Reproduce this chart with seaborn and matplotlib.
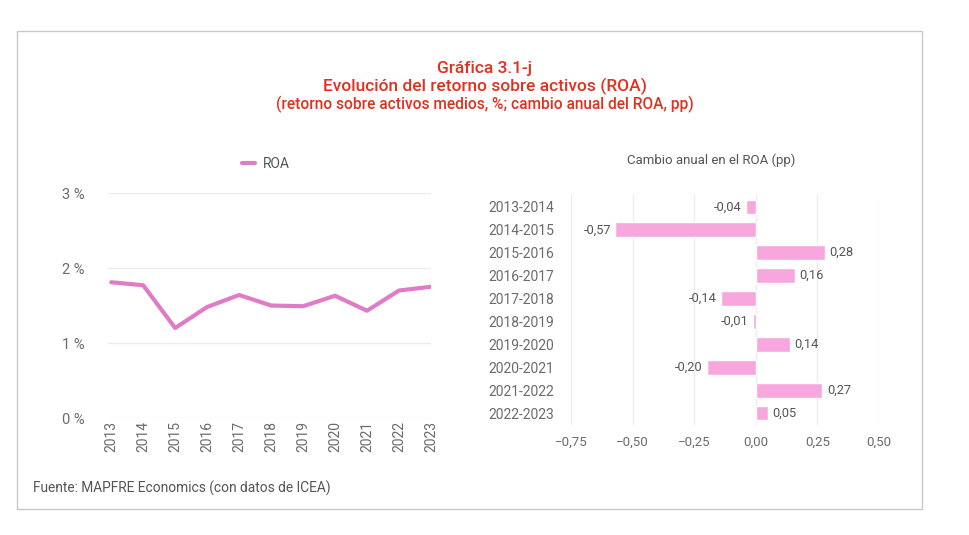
import matplotlib
matplotlib.use("Agg")
import matplotlib.pyplot as plt
import seaborn as sns
import pandas as pd
from matplotlib.patches import Rectangle

# --- Data ---
years = [2013, 2014, 2015, 2016, 2017, 2018, 2019, 2020, 2021, 2022, 2023]
roa = [1.81, 1.77, 1.20, 1.48, 1.64, 1.50, 1.49, 1.63, 1.43, 1.70, 1.75]

periods = ["2013-2014", "2014-2015", "2015-2016", "2016-2017", "2017-2018",
           "2018-2019", "2019-2020", "2020-2021", "2021-2022", "2022-2023"]
changes = [-0.04, -0.57, 0.28, 0.16, -0.14, -0.01, 0.14, -0.20, 0.27, 0.05]

y_ticks = [0, 1, 2, 3]
x_ticks = [-0.75, -0.50, -0.25, 0.00, 0.25, 0.50]

# --- Style ---
sns.set_theme(style="white")
plt.rcParams["font.family"] = ["Roboto", "DejaVu Sans"]

red = "#e2301f"
grey_txt = "#6b6b6b"
line_col = "#e07cc6"
bar_col = "#f8a6de"
grid_col = "#ececec"

fig = plt.figure(figsize=(9.7, 5.35), dpi=100)

# outer frame
fig.patches.append(Rectangle((17 / 970, 1 - 509 / 535), 905 / 970, 478 / 535,
                             transform=fig.transFigure, fill=False,
                             edgecolor="#c8c8c8", linewidth=1))

# titles
fig.text(0.5, 1 - 68 / 535, "Gráfica 3.1-j", ha="center", va="center",
         color=red, fontsize=12.5, fontweight="medium")
fig.text(0.5, 1 - 86 / 535, "Evolución del retorno sobre activos (ROA)", ha="center",
         va="center", color=red, fontsize=12.5, fontweight="medium")
fig.text(0.5, 1 - 104 / 535, "(retorno sobre activos medios, %; cambio anual del ROA, pp)",
         ha="center", va="center", color=red, fontsize=11.2, fontweight="medium")

# --- Left: ROA line ---
ax1 = fig.add_axes([108 / 970, 1 - 418 / 535, 323 / 970, 225 / 535])
df_roa = pd.DataFrame({"year": years, "ROA": roa})
sns.lineplot(data=df_roa, x="year", y="ROA", ax=ax1, color=line_col, linewidth=3,
             label="ROA")
ax1.set_ylim(0, 3)
ax1.set_xlim(2012.9, 2023.0)
ax1.set_yticks(y_ticks)
ax1.set_yticklabels([f"{t} %" for t in y_ticks])
ax1.set_xticks(years)
ax1.set_xticklabels([str(y) for y in years], rotation=90)
ax1.yaxis.grid(True, color=grid_col, linewidth=1)
ax1.set_xlabel("")
ax1.set_ylabel("")
for s in ax1.spines.values():
    s.set_visible(False)
ax1.tick_params(axis="y", colors=grey_txt, labelsize=10.5, length=0, pad=17)
ax1.tick_params(axis="x", colors=grey_txt, labelsize=10, length=0, pad=2)
leg = ax1.legend(loc="center", bbox_to_anchor=(0.49, 1.13), frameon=False,
                 fontsize=10, handlelength=0.9, handletextpad=0.6)
for t in leg.get_texts():
    t.set_color("#555555")

# --- Right: annual change bars ---
ax2 = fig.add_axes([571 / 970, 1 - 424.5 / 535, 308 / 970, 229 / 535])
df_chg = pd.DataFrame({"period": periods, "change": changes})
sns.barplot(data=df_chg, x="change", y="period", ax=ax2, color=bar_col,
            orient="h", width=0.65, saturation=1)
ax2.set_xlim(-0.75, 0.5)
ax2.set_ylim(9.5, -0.5)
ax2.set_xticks(x_ticks)
ax2.set_xticklabels([f"{t:.2f}".replace(".", ",").replace("-", "\u2212") for t in x_ticks])
ax2.xaxis.grid(True, color=grid_col, linewidth=1)
ax2.set_axisbelow(True)
ax2.set_xlabel("")
ax2.set_ylabel("")
for s in ax2.spines.values():
    s.set_visible(False)
ax2.tick_params(axis="both", colors=grey_txt, labelsize=9.5, length=0)
ax2.tick_params(axis="y", pad=12, labelsize=10)
ax2.tick_params(axis="x", pad=8)
for i, v in enumerate(changes):
    lbl = f"{v:.2f}".replace(".", ",")
    if v < 0:
        ax2.text(v - 0.018, i, lbl, ha="right", va="center", fontsize=9.3, color="#555555")
    else:
        ax2.text(v + 0.018, i, lbl, ha="left", va="center", fontsize=9.3, color="#555555")

fig.text(711 / 970, 1 - 160 / 535, "Cambio anual en el ROA (pp)", ha="center",
         va="center", fontsize=9.5, color="#555555")

# source
fig.text(33 / 970, 1 - 488 / 535, "Fuente: MAPFRE Economics (con datos de ICEA)",
         ha="left", va="center", fontsize=9.9, color="#555555")

fig.savefig("out.png", dpi=100)
